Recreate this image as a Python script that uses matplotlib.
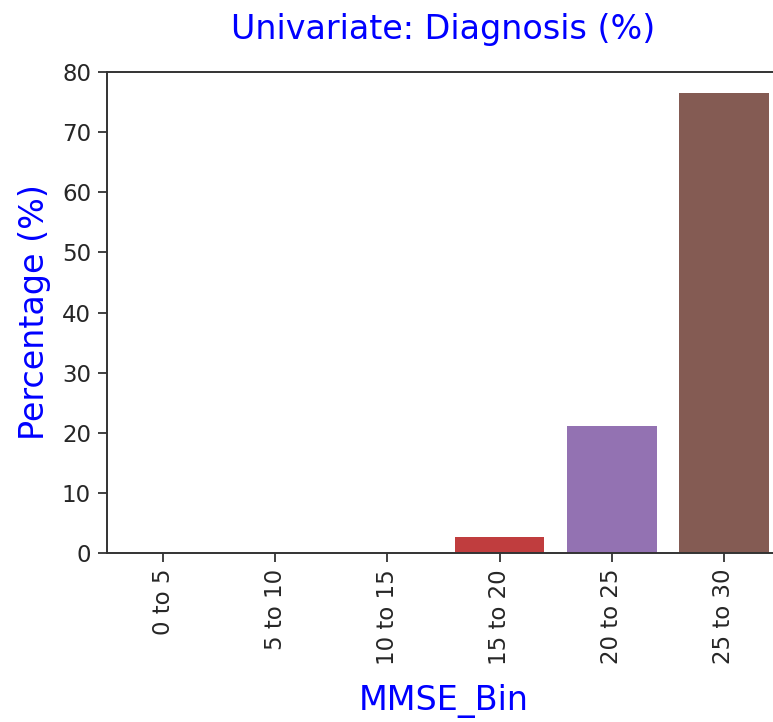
import matplotlib
matplotlib.use("Agg")
import matplotlib.pyplot as plt
import seaborn as sns

categories = ["0 to 5", "5 to 10", "10 to 15", "15 to 20", "20 to 25", "25 to 30"]
percentages = [0.0, 0.0, 0.0, 2.7, 21.1, 76.5]

colors = [sns.desaturate(c, 0.75) for c in sns.color_palette("tab10", 6)]

W, H = 773, 722
fig = plt.figure(figsize=(W / 100, H / 100), dpi=100)
ax = fig.add_axes([107 / W, (H - 553) / H, (780 - 107) / W, (553 - 72) / H])

x = list(range(len(categories)))
ax.bar(x, percentages, width=0.8, color=colors)
ax.set_xlim(-0.5, len(categories) - 0.5)
ax.set_ylim(0, 80)
ax.set_xticks(x)
ax.set_xticklabels(categories, rotation=90)
ax.tick_params(axis="both", labelsize=16.5, length=6.5, width=1.3, pad=5,
               colors="#333333", labelcolor="#262626")
for s in ax.spines.values():
    s.set_linewidth(1.4)
    s.set_color("#333333")

ax.set_title("Univariate: Diagnosis (%)", color="blue", fontsize=24, pad=24)
ax.set_ylabel("Percentage (%)", color="blue", fontsize=24, labelpad=8)
ax.set_xlabel("MMSE_Bin", color="blue", fontsize=24, labelpad=14)

fig.savefig("out.png", dpi=100)
